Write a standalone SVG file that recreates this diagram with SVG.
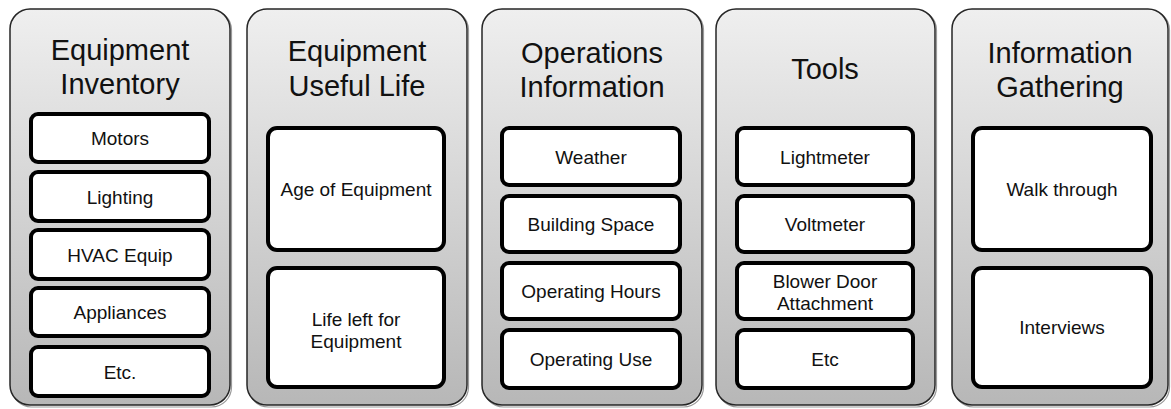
<svg xmlns="http://www.w3.org/2000/svg" width="1171" height="409" viewBox="0 0 1171 409">
<defs>
<linearGradient id="pg" x1="0" y1="0" x2="0" y2="1">
<stop offset="0" stop-color="#efefef"/>
<stop offset="1" stop-color="#b7b7b7"/>
</linearGradient>
<style>
.panel{fill:url(#pg);stroke:#262626;stroke-width:1.5}
.shadow{fill:none;stroke:#9a9a9a;stroke-width:1.2}
.box{fill:#ffffff;stroke:#000000;stroke-width:4}
.title{font-family:"Liberation Sans",Arial,sans-serif;font-size:29px;fill:#111;text-anchor:middle}
.item{font-family:"Liberation Sans",Arial,sans-serif;font-size:19px;fill:#111;text-anchor:middle}
</style>
</defs>
<rect width="1171" height="409" fill="#ffffff"/>
<g id="connectors"/>

<g id="panel-equipment-inventory">
<rect class="shadow" x="11.5" y="10" width="220" height="397" rx="20"/>
<rect class="panel" x="10" y="9" width="220" height="396" rx="20"/>
<text class="title" x="120" y="60">Equipment</text>
<text class="title" x="120" y="94">Inventory</text>
<g id="item-motors"><rect class="box" x="31" y="114" width="178" height="48" rx="7"/><text class="item" x="120" y="145">Motors</text></g>
<g id="item-lighting"><rect class="box" x="31" y="172" width="178" height="49" rx="7"/><text class="item" x="120" y="204">Lighting</text></g>
<g id="item-hvac"><rect class="box" x="31" y="230" width="178" height="49" rx="7"/><text class="item" x="120" y="262">HVAC Equip</text></g>
<g id="item-appliances"><rect class="box" x="31" y="288" width="178" height="48" rx="7"/><text class="item" x="120" y="319">Appliances</text></g>
<g id="item-etc1"><rect class="box" x="31" y="347" width="178" height="49" rx="7"/><text class="item" x="120" y="379">Etc.</text></g>
</g>

<g id="panel-equipment-useful-life">
<rect class="shadow" x="248.5" y="10" width="220" height="397" rx="20"/>
<rect class="panel" x="247" y="9" width="220" height="396" rx="20"/>
<text class="title" x="357" y="61">Equipment</text>
<text class="title" x="357" y="96">Useful Life</text>
<g id="item-age"><rect class="box" x="268" y="128" width="176" height="122" rx="9"/><text class="item" x="356" y="196">Age of Equipment</text></g>
<g id="item-life-left"><rect class="box" x="268" y="268" width="176" height="119" rx="9"/><text class="item" x="356" y="326">Life left for</text><text class="item" x="356" y="348">Equipment</text></g>
</g>

<g id="panel-operations-information">
<rect class="shadow" x="483.5" y="10" width="220" height="397" rx="20"/>
<rect class="panel" x="482" y="9" width="220" height="396" rx="20"/>
<text class="title" x="592" y="63">Operations</text>
<text class="title" x="592" y="97">Information</text>
<g id="item-weather"><rect class="box" x="502" y="128" width="178" height="57" rx="7"/><text class="item" x="591" y="164">Weather</text></g>
<g id="item-building-space"><rect class="box" x="502" y="196" width="178" height="56" rx="7"/><text class="item" x="591" y="231">Building Space</text></g>
<g id="item-operating-hours"><rect class="box" x="502" y="263" width="178" height="56" rx="7"/><text class="item" x="591" y="298">Operating Hours</text></g>
<g id="item-operating-use"><rect class="box" x="502" y="330" width="178" height="58" rx="7"/><text class="item" x="591" y="366">Operating Use</text></g>
</g>

<g id="panel-tools">
<rect class="shadow" x="717.5" y="10" width="219" height="397" rx="20"/>
<rect class="panel" x="716" y="9" width="219" height="396" rx="20"/>
<text class="title" x="825" y="79">Tools</text>
<g id="item-lightmeter"><rect class="box" x="737" y="128" width="176" height="57" rx="7"/><text class="item" x="825" y="164">Lightmeter</text></g>
<g id="item-voltmeter"><rect class="box" x="737" y="196" width="176" height="56" rx="7"/><text class="item" x="825" y="231">Voltmeter</text></g>
<g id="item-blower-door"><rect class="box" x="737" y="263" width="176" height="56" rx="7"/><text class="item" x="825" y="288">Blower Door</text><text class="item" x="825" y="310">Attachment</text></g>
<g id="item-etc2"><rect class="box" x="737" y="330" width="176" height="58" rx="7"/><text class="item" x="825" y="366">Etc</text></g>
</g>

<g id="panel-information-gathering">
<rect class="shadow" x="953.5" y="10" width="216" height="397" rx="20"/>
<rect class="panel" x="952" y="9" width="216" height="396" rx="20"/>
<text class="title" x="1060" y="63">Information</text>
<text class="title" x="1060" y="97">Gathering</text>
<g id="item-walk-through"><rect class="box" x="973" y="128" width="178" height="122" rx="9"/><text class="item" x="1062" y="196">Walk through</text></g>
<g id="item-interviews"><rect class="box" x="973" y="268" width="178" height="119" rx="9"/><text class="item" x="1062" y="334">Interviews</text></g>
</g>
</svg>
